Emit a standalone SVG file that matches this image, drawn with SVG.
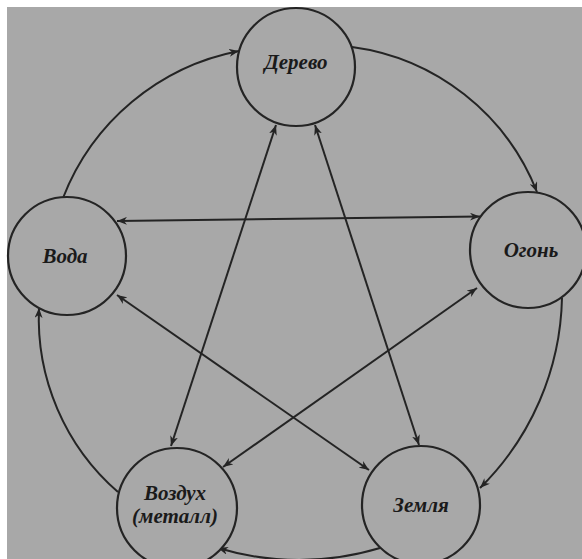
<svg xmlns="http://www.w3.org/2000/svg" width="582" height="559" viewBox="0 0 582 559">
  <style>
    .node circle { fill: #a8a8a8; stroke: #242424; stroke-width: 2.2; }
    .node text { font-family: "Liberation Serif", "DejaVu Serif", serif; font-weight: bold; font-style: italic; font-size: 21px; fill: #1a1a1a; text-anchor: middle; }
    .conn path, .conn line { fill: none; stroke: #242424; stroke-width: 2; }
    .arc { marker-end: url(#arrow); }
    .dbl { marker-start: url(#arrow); marker-end: url(#arrow); }
  </style>
  <defs>
    <marker id="arrow" markerUnits="userSpaceOnUse" markerWidth="11" markerHeight="8" refX="10" refY="4" orient="auto-start-reverse" viewBox="0 0 11 8">
      <path d="M0,0 L10,4 L0,8 L3,4 Z" fill="#242424"/>
    </marker>
  </defs>
  <rect x="0" y="0" width="582" height="559" fill="#ffffff"/>
  <rect x="7" y="7" width="575" height="552" fill="#a8a8a8"/>

  <g id="connectors" class="conn">
    <!-- outer cycle -->
    <path class="arc" d="M63,198 A237,237 0 0 1 239,51"/>
    <path class="arc" d="M352,47 A232,232 0 0 1 537,192"/>
    <path class="arc" d="M562,298 A275,275 0 0 1 480,488"/>
    <path class="arc" d="M380,548 A280,280 0 0 1 218,548"/>
    <path class="arc" d="M118,492 A230,230 0 0 1 39,308"/>
    <!-- inner star -->
    <line class="dbl" x1="117" y1="221" x2="480" y2="216.5"/>
    <line class="dbl" x1="276" y1="125" x2="171" y2="446"/>
    <line class="dbl" x1="315" y1="125" x2="419" y2="445"/>
    <line class="dbl" x1="117" y1="295" x2="369" y2="470"/>
    <line class="dbl" x1="477" y1="288" x2="223" y2="467"/>
  </g>

  <g id="node-derevo" class="node">
    <circle cx="296" cy="67" r="59"/>
    <text x="296" y="69">Дерево</text>
  </g>
  <g id="node-ogon" class="node">
    <circle cx="528" cy="250" r="58"/>
    <text x="531" y="257">Огонь</text>
  </g>
  <g id="node-voda" class="node">
    <circle cx="67" cy="256" r="59"/>
    <text x="65" y="263">Вода</text>
  </g>
  <g id="node-vozdukh" class="node">
    <circle cx="177" cy="508" r="60"/>
    <text x="175" y="500">Воздух</text>
    <text x="175" y="523">(металл)</text>
  </g>
  <g id="node-zemlya" class="node">
    <circle cx="421" cy="505" r="59"/>
    <text x="421" y="512">Земля</text>
  </g>
</svg>
